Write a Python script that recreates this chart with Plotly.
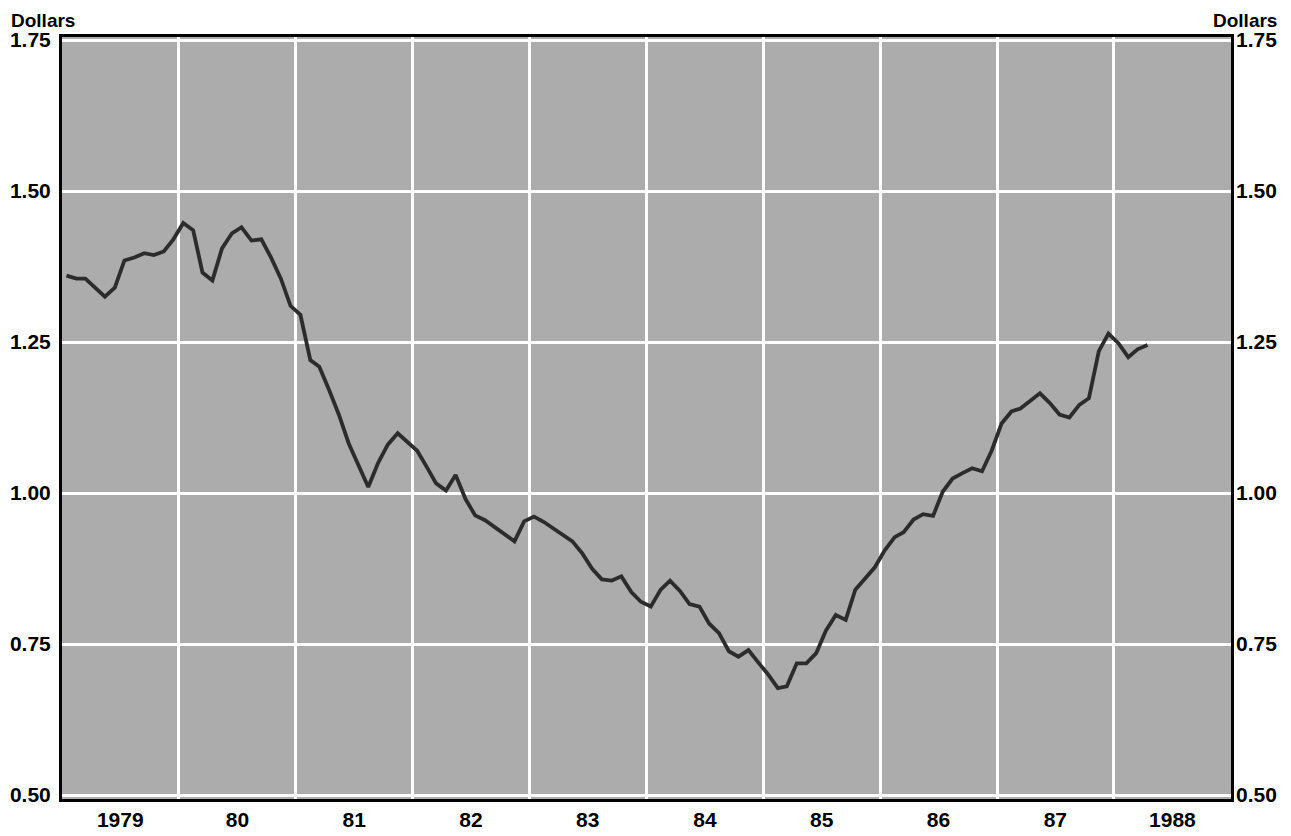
import pandas as pd
import plotly.graph_objects as go

# Monthly values, Jan 1979 - Apr 1988 (dollars)
values = [
    1.360, 1.355, 1.355, 1.340, 1.325, 1.340, 1.385, 1.390, 1.397, 1.394, 1.400, 1.420,  # 1979
    1.447, 1.435, 1.365, 1.352, 1.405, 1.430, 1.440, 1.418, 1.420, 1.390, 1.355, 1.310,  # 1980
    1.295, 1.220, 1.209, 1.170, 1.130, 1.082, 1.046, 1.010, 1.050, 1.080, 1.099, 1.085,  # 1981
    1.070, 1.042, 1.016, 1.004, 1.030, 0.990, 0.963, 0.955, 0.943, 0.932, 0.920, 0.953,  # 1982
    0.961, 0.952, 0.942, 0.932, 0.920, 0.900, 0.875, 0.857, 0.855, 0.862, 0.836, 0.820,  # 1983
    0.812, 0.840, 0.855, 0.838, 0.816, 0.812, 0.784, 0.768, 0.738, 0.729, 0.740, 0.720,  # 1984
    0.700, 0.677, 0.680, 0.718, 0.718, 0.735, 0.772, 0.798, 0.790, 0.840, 0.860, 0.877,  # 1985
    0.905, 0.927, 0.935, 0.956, 0.965, 0.962, 1.002, 1.024, 1.033, 1.041, 1.036, 1.070,  # 1986
    1.115, 1.135, 1.140, 1.153, 1.165, 1.149, 1.130, 1.125, 1.146, 1.157, 1.235, 1.264,  # 1987
    1.248, 1.225, 1.238, 1.245,                                                          # 1988
]
year_labels = ["1979", "80", "81", "82", "83", "84", "85", "86", "87", "1988"]
first_year = 1979
y_ticks = [0.50, 0.75, 1.00, 1.25, 1.50, 1.75]
y_tick_text = ["0.50", "0.75", "1.00", "1.25", "1.50", "1.75"]
unit_label = "Dollars"

dates = pd.date_range(f"{first_year}-01-01", periods=len(values), freq="MS") + pd.Timedelta(days=14)
mid_years = [pd.Timestamp(f"{first_year + k}-07-02") for k in range(len(year_labels))]

font = dict(family="Liberation Sans, Arial, sans-serif", size=21, color="black", weight="bold")
unit_font = dict(family="Liberation Sans, Arial, sans-serif", size=19, color="black", weight="bold")

fig = go.Figure()
fig.add_trace(go.Scatter(
    x=dates, y=values, mode="lines",
    line=dict(color="#2c2c2c", width=3.8),
    hoverinfo="skip", showlegend=False,
))
# invisible trace so the right-hand axis is drawn
fig.add_trace(go.Scatter(x=[dates[0]], y=[values[0]], yaxis="y2", mode="markers",
                         marker=dict(opacity=0), showlegend=False, hoverinfo="skip"))

yrange = [0.4934, 1.755]
fig.update_layout(
    width=1283, height=828,
    margin=dict(l=54, r=60, t=29, b=37, autoexpand=False),
    paper_bgcolor="white",
    plot_bgcolor="#acacac",
    font=font,
    xaxis=dict(
        type="date",
        range=[f"{first_year}-01-01", f"{first_year + len(year_labels)}-01-01"],
        tickmode="array", tickvals=mid_years, ticktext=year_labels,
        showgrid=False, ticks="", ticklabelstandoff=0,
        minor=dict(tickmode="linear", tick0=f"{first_year}-01-01", dtick="M12",
                   showgrid=True, gridcolor="white", gridwidth=2.5, ticks=""),
        showline=True, linecolor="black", linewidth=3, mirror=True,
        zeroline=False, tickfont=font, automargin=False,
    ),
    yaxis=dict(
        range=yrange, tickmode="array", tickvals=y_ticks, ticktext=y_tick_text,
        showgrid=True, gridcolor="white", gridwidth=2.5,
        showline=True, linecolor="black", linewidth=3, mirror=True,
        ticks="", zeroline=False, tickfont=font, ticklabelstandoff=4, automargin=False,
    ),
    yaxis2=dict(
        range=yrange, overlaying="y", side="right", matches="y",
        tickmode="array", tickvals=y_ticks, ticktext=y_tick_text,
        showgrid=False, ticks="", zeroline=False, tickfont=font, ticklabelstandoff=4,
        automargin=False,
    ),
    annotations=[
        dict(text=unit_label, xref="paper", yref="paper", x=-0.0445, y=1.037,
             xanchor="left", yanchor="top", showarrow=False, font=unit_font,
             borderpad=0),
        dict(text=unit_label, xref="paper", yref="paper", x=1.0402, y=1.037,
             xanchor="right", yanchor="top", showarrow=False, font=unit_font,
             borderpad=0),
    ],
)

fig.write_html("out.html")
